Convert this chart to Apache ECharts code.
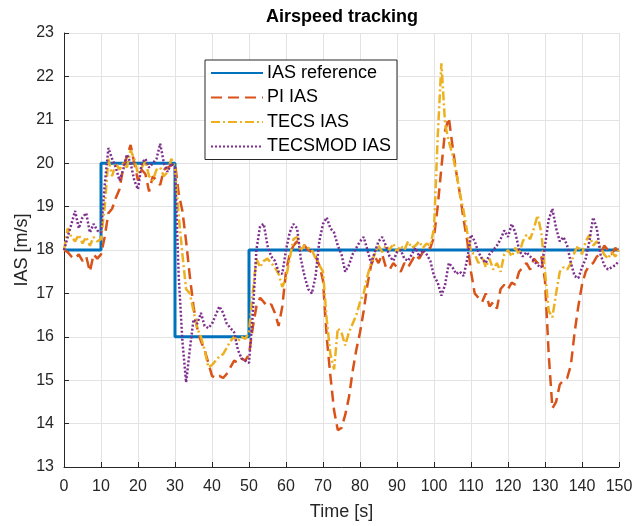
<!DOCTYPE html>
<html>
<head>
<meta charset="utf-8">
<title>Airspeed tracking</title>
<script src="https://cdn.jsdelivr.net/npm/echarts@6/dist/echarts.min.js"></script>
<style>
  html, body { margin: 0; padding: 0; background: #ffffff; }
  #chart { width: 641px; height: 526px; }
</style>
</head>
<body>
<div id="chart"></div>
<script>
// Reference step command (time [s], IAS [m/s])
const refTime = [0, 10, 10, 30, 30, 50, 50, 150];
const refIAS  = [18, 18, 20, 20, 16, 16, 18, 18];

// Measured IAS sampled once per second, t = 0 .. 150 s
const piIAS = [
  18.0, 17.95, 17.85, 17.8, 17.9, 17.75, 17.85, 17.5, 17.9, 17.8,
  17.9, 18.3, 18.85, 18.95, 19.2, 19.4, 19.9, 20.15, 20.42, 20.0,
  19.6, 19.85, 19.75, 19.35, 19.7, 19.6, 19.5, 19.85, 19.9, 19.95,
  20.0, 19.3, 18.9, 18.2, 17.4, 16.7, 16.2, 15.9, 15.7, 15.4,
  15.1, 15.05, 15.1, 15.05, 15.15, 15.3, 15.45, 15.4, 15.5, 15.45,
  15.6, 16.2, 16.7, 16.9, 16.8, 16.7, 16.75, 16.55, 16.25, 16.7,
  17.5, 17.9, 18.1, 18.2, 18.15, 18.1, 18.0, 17.95, 17.85, 17.65,
  17.3, 16.0, 15.1, 14.3, 13.85, 13.9, 14.2, 14.6, 15.2, 15.7,
  16.1, 16.6, 17.2, 17.65, 17.85, 17.7, 17.9, 17.6, 17.55, 17.7,
  17.6, 17.5, 17.7, 17.6, 17.75, 17.9, 17.8, 17.95, 18.0, 18.05,
  18.3, 19.0, 19.9, 20.75, 21.05, 20.4, 19.8, 19.3, 18.7, 18.2,
  17.5, 17.0, 16.9, 16.8, 17.0, 16.7, 16.8, 16.65, 17.1, 17.2,
  17.1, 17.25, 17.2, 17.5, 17.6, 17.7, 17.55, 17.8, 17.7, 17.85,
  17.3, 15.6, 14.35, 14.5, 14.9, 15.0, 15.05, 15.35, 16.1, 16.7,
  17.2, 17.5, 17.65, 17.7, 17.85, 17.9, 18.1, 18.0, 17.9, 18.05,
  17.95
];

const tecsIAS = [
  18.0, 18.5, 18.3, 18.2, 18.35, 18.15, 18.3, 18.1, 18.3, 18.2,
  18.25, 19.0, 20.1, 19.7, 20.0, 19.85, 20.0, 19.9, 20.3, 20.1,
  19.75, 19.9, 20.05, 19.7, 19.6, 19.85, 19.9, 19.7, 19.8, 20.1,
  19.9, 18.8, 17.9, 17.1, 17.0, 16.6, 16.2, 16.0, 15.7, 15.3,
  15.35, 15.45, 15.55, 15.6, 15.75, 15.9, 16.0, 15.9, 16.0, 15.95,
  16.1, 17.0, 17.8, 17.6, 17.75, 17.8, 17.7, 17.6, 17.45, 17.15,
  17.35, 17.8, 18.25, 18.3, 18.0, 18.1, 18.05, 18.0, 17.8, 17.65,
  17.5, 16.4, 15.6, 15.25, 16.2, 16.1, 15.8, 16.1, 16.3, 16.5,
  16.8, 17.0, 17.4, 17.7, 17.9, 18.1, 17.95, 18.1, 18.0, 18.15,
  17.95, 18.1, 18.0, 18.2, 18.05, 18.1, 18.2, 18.05, 18.15, 18.1,
  18.5, 20.6, 22.3, 20.9, 20.5, 20.2, 19.8, 19.3, 18.9, 18.4,
  17.95, 17.9, 17.7, 17.85, 17.6, 17.8, 17.55, 17.7, 17.5, 17.9,
  18.0, 17.85, 18.05, 17.9, 18.2, 18.35, 18.25, 18.5, 18.8, 18.4,
  17.5, 16.6, 16.45, 17.0, 17.5, 17.6, 17.55, 17.7, 17.95, 18.1,
  17.9, 18.2, 18.35, 18.1, 18.2, 18.05, 17.9, 17.8, 17.95, 17.85,
  18.0
];

const tecsmodIAS = [
  18.0, 18.3, 18.6, 18.9, 18.5, 18.75, 18.85, 18.4, 18.6, 18.45,
  18.4, 19.5, 20.35, 20.1, 19.9, 19.6, 19.85, 20.2, 20.0, 19.6,
  19.4, 20.0, 20.1, 19.9, 20.0, 20.1, 20.45, 20.0, 19.8, 20.0,
  19.9, 17.4, 15.9, 14.95, 15.7, 16.4, 16.3, 16.55, 16.25, 16.2,
  16.3, 16.5, 16.7, 16.55, 16.3, 16.2, 16.1, 15.7, 15.5, 15.45,
  15.4, 16.5, 18.0, 18.55, 18.6, 18.1, 17.85, 17.75, 17.5, 17.45,
  18.0, 18.4, 18.6, 18.5, 17.8, 17.4, 17.1, 17.0, 17.4, 18.2,
  18.6, 18.75, 18.5, 18.4, 18.1, 17.9, 17.5, 17.65, 17.9, 18.05,
  18.2, 18.3, 18.0, 17.7, 17.95, 18.2, 18.3, 18.1, 17.85, 17.75,
  17.95, 18.0, 17.8, 17.75, 17.9, 18.05, 17.85, 18.0, 17.9, 17.75,
  17.4, 17.25, 16.95, 17.2, 17.7, 17.6, 17.45, 17.5, 17.4, 17.8,
  18.35, 18.2, 17.95, 17.8, 17.7, 17.9, 18.0, 18.1, 18.25, 18.45,
  18.3, 18.6, 18.4, 18.0, 17.85, 17.95, 17.85, 17.75, 17.65, 17.6,
  18.1, 18.7, 18.95, 18.5, 18.2, 18.3, 18.1, 17.7, 17.4, 17.35,
  17.6, 17.8, 18.2, 18.75, 18.5, 17.9, 17.65, 17.55, 17.6, 17.65,
  17.75
];

const seriesNames = ['IAS reference', 'PI IAS', 'TECS IAS', 'TECSMOD IAS'];
const xTicks = { min: 0, max: 150, step: 10 };
const yTicks = { min: 13, max: 23, step: 1 };

// pair each per-second sample with its time stamp
const withTime = arr => arr.map((v, i) => [i, v]);

const axisColor = '#262626';
const gridColor = '#e3e3e3';
const font = 'Liberation Sans, Arial, Helvetica, sans-serif';

const chart = echarts.init(document.getElementById('chart'), null, { renderer: 'canvas' });

chart.setOption({
  backgroundColor: '#ffffff',
  animation: false,
  title: {
    text: 'Airspeed tracking',
    left: 342,
    top: 8,
    padding: 0,
    textAlign: 'center',
    textStyle: { fontFamily: font, fontSize: 18, fontWeight: 'bold', color: '#000000' }
  },
  grid: { left: 64, right: 22, top: 33, bottom: 54, containLabel: false },
  legend: {
    orient: 'vertical',
    left: 205,
    top: 60,
    padding: [4, 6, 4, 5],
    itemGap: 6.5,
    itemWidth: 52,
    itemHeight: 18,
    borderColor: axisColor,
    borderWidth: 1,
    borderRadius: 0,
    backgroundColor: '#ffffff',
    itemStyle: { opacity: 0 },
    textStyle: { fontFamily: font, fontSize: 18, color: '#000000', padding: [0, 0, 0, -1] },
    data: seriesNames
  },
  xAxis: {
    type: 'value',
    min: xTicks.min,
    max: xTicks.max,
    interval: xTicks.step,
    name: 'Time [s]',
    nameLocation: 'middle',
    nameGap: 36,
    nameMoveOverlap: false,
    nameTextStyle: { fontFamily: font, fontSize: 18, color: axisColor },
    axisLine: { show: true, lineStyle: { color: axisColor, width: 1 } },
    axisTick: { show: true, inside: true, length: 5, lineStyle: { color: axisColor } },
    axisLabel: { fontFamily: font, fontSize: 16, color: axisColor, margin: 12 },
    splitLine: { show: true, lineStyle: { color: gridColor, width: 1 } }
  },
  yAxis: {
    type: 'value',
    min: yTicks.min,
    max: yTicks.max,
    interval: yTicks.step,
    name: 'IAS [m/s]',
    nameLocation: 'middle',
    nameRotate: 90,
    nameGap: 33,
    nameMoveOverlap: false,
    nameTextStyle: { fontFamily: font, fontSize: 18, color: axisColor },
    axisLine: { show: true, lineStyle: { color: axisColor, width: 1 } },
    axisTick: { show: true, inside: true, length: 5, lineStyle: { color: axisColor } },
    axisLabel: { fontFamily: font, fontSize: 16, color: axisColor, margin: 10 },
    splitLine: { show: true, lineStyle: { color: gridColor, width: 1 } }
  },
  series: [
    {
      name: seriesNames[0],
      type: 'line',
      symbol: 'none',
      data: refTime.map((t, i) => [t, refIAS[i]]),
      lineStyle: { color: '#0072BD', width: 3, type: 'solid' },
      itemStyle: { color: '#0072BD' },
      z: 2
    },
    {
      name: seriesNames[1],
      type: 'line',
      symbol: 'none',
      data: withTime(piIAS),
      lineStyle: { color: '#D95319', width: 2.5, type: [11, 6] },
      itemStyle: { color: '#D95319' },
      z: 3
    },
    {
      name: seriesNames[2],
      type: 'line',
      symbol: 'none',
      data: withTime(tecsIAS),
      lineStyle: { color: '#EDB120', width: 2.5, type: [9, 3, 2, 3] },
      itemStyle: { color: '#EDB120' },
      z: 4
    },
    {
      name: seriesNames[3],
      type: 'line',
      symbol: 'none',
      data: withTime(tecsmodIAS),
      lineStyle: { color: '#7E2F8E', width: 2.5, type: [2, 2] },
      itemStyle: { color: '#7E2F8E' },
      z: 5
    }
  ]
});
</script>
</body>
</html>
